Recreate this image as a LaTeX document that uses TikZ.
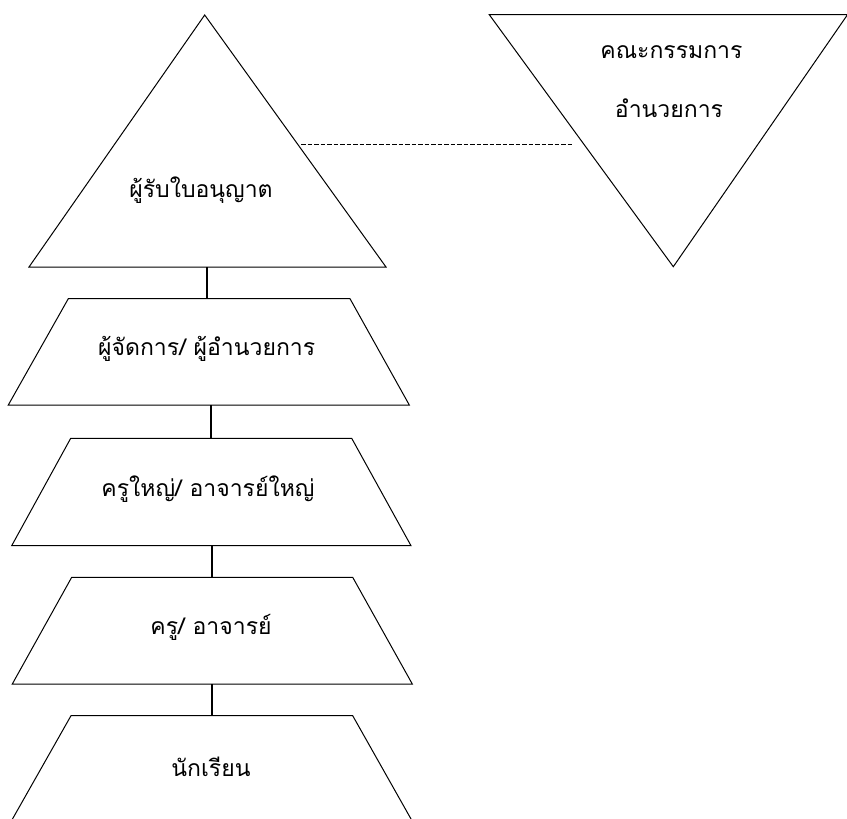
\documentclass[tikz,border=0pt]{standalone}
\usepackage{fontspec}
\newfontfamily\thaifont[Script=Thai]{Loma}
\begin{document}
\begin{tikzpicture}[x=1pt,y=-1pt,
  shapeline/.style={draw=black,line width=1pt,line join=miter},
  conn/.style={draw=black,line width=1.8pt},
  dashconn/.style={draw=black,line width=1.4pt,dashed,dash pattern=on 4.5pt off 2pt},
  lbl/.style={font=\thaifont\fontsize{23}{27}\selectfont,inner sep=0pt,anchor=center}]
\useasboundingbox (0,0) rectangle (847,819);
\clip (0,0) rectangle (847,819);
% upright triangle
\coordinate (triA) at (204.7,15);
\coordinate (triL) at (29,267);
\coordinate (triR) at (386,267);
\draw[shapeline] (triA) -- (triR) -- (triL) -- cycle;
\node[lbl] (lic) at (201,190) {ผู้รับใบอนุญาต};
% inverted triangle
\coordinate (invL) at (489.3,14.7);
\coordinate (invR) at (847.5,14.7);
\coordinate (invB) at (673.3,266.7);
\draw[shapeline] (invL) -- (invR) -- (invB) -- cycle;
\node[lbl] (brd1) at (671.5,52) {คณะกรรมการ};
\node[lbl] (brd2) at (669,108.5) {อำนวยการ};
% dashed link
\coordinate (dashA) at (301,144.3);
\coordinate (dashB) at (571.7,144.3);
\draw[dashconn] (dashA) -- (dashB);
% trapezium 1
\coordinate (p1tl) at (68.3,298.7);
\coordinate (p1tr) at (350,298.7);
\coordinate (p1br) at (409.3,405);
\coordinate (p1bl) at (8.3,405);
\draw[shapeline] (p1tl) -- (p1tr) -- (p1br) -- (p1bl) -- cycle;
\node[lbl] (mgr) at (206.7,349) {ผู้จัดการ/ ผู้อำนวยการ};
% trapezium 2
\coordinate (p2tl) at (70.7,438.3);
\coordinate (p2tr) at (351.7,438.3);
\coordinate (p2br) at (411,545.7);
\coordinate (p2bl) at (11.7,545.7);
\draw[shapeline] (p2tl) -- (p2tr) -- (p2br) -- (p2bl) -- cycle;
\node[lbl] (head) at (208,489) {ครูใหญ่/ อาจารย์ใหญ่};
% trapezium 3
\coordinate (p3tl) at (71.7,577.3);
\coordinate (p3tr) at (352.7,577.3);
\coordinate (p3br) at (412.3,684);
\coordinate (p3bl) at (12.3,684);
\draw[shapeline] (p3tl) -- (p3tr) -- (p3br) -- (p3bl) -- cycle;
\node[lbl] (tch) at (211,627) {ครู/ อาจารย์};
% trapezium 4
\coordinate (p4tl) at (71,715.7);
\coordinate (p4tr) at (352.7,715.7);
\coordinate (p4br) at (413,822.5);
\coordinate (p4bl) at (10.5,822.5);
\draw[shapeline] (p4tl) -- (p4tr) -- (p4br) -- (p4bl) -- cycle;
\node[lbl] (stu) at (211,767) {นักเรียน};
% vertical connectors
\coordinate (c1a) at (207.3,267);
\coordinate (c1b) at (207.3,298.7);
\coordinate (c2a) at (211.3,405);
\coordinate (c2b) at (211.3,438.3);
\coordinate (c3a) at (211.7,545.7);
\coordinate (c3b) at (211.7,577.3);
\coordinate (c4a) at (211.7,684);
\coordinate (c4b) at (211.7,715.7);
\draw[conn] (c1a) -- (c1b);
\draw[conn] (c2a) -- (c2b);
\draw[conn] (c3a) -- (c3b);
\draw[conn] (c4a) -- (c4b);
\end{tikzpicture}
\end{document}
